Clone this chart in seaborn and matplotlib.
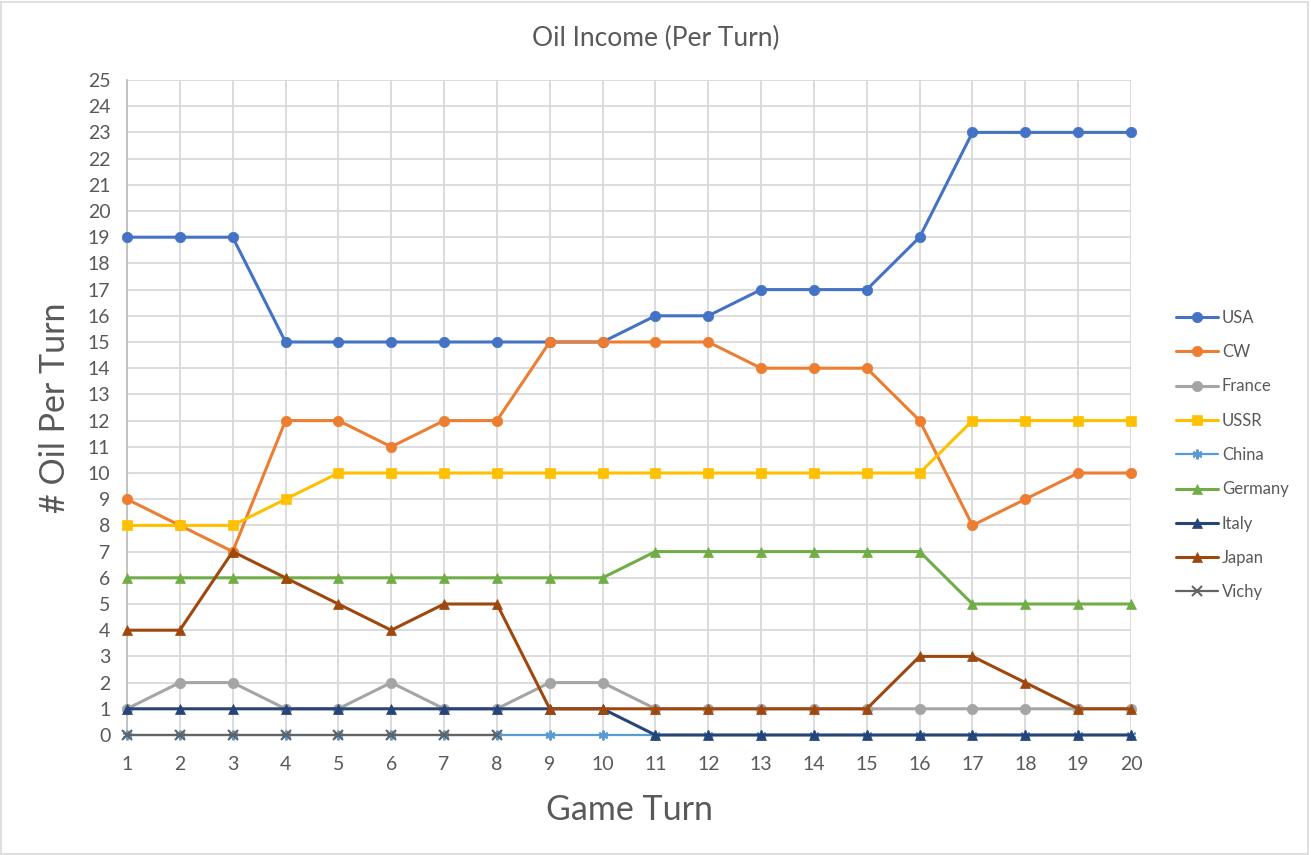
import pandas as pd
import numpy as np
import matplotlib.pyplot as plt
import seaborn as sns

# Oil income per game turn
turns = list(range(1, 21))
usa = [19, 19, 19, 15, 15, 15, 15, 15, 15, 15, 16, 16, 17, 17, 17, 19, 23, 23, 23, 23]
cw = [9, 8, 7, 12, 12, 11, 12, 12, 15, 15, 15, 15, 14, 14, 14, 12, 8, 9, 10, 10]
france = [1, 2, 2, 1, 1, 2, 1, 1, 2, 2, 1, 1, 1, 1, 1, 1, 1, 1, 1, 1]
ussr = [8, 8, 8, 9, 10, 10, 10, 10, 10, 10, 10, 10, 10, 10, 10, 10, 12, 12, 12, 12]
china = [0] * 20
germany = [6, 6, 6, 6, 6, 6, 6, 6, 6, 6, 7, 7, 7, 7, 7, 7, 5, 5, 5, 5]
italy = [1, 1, 1, 1, 1, 1, 1, 1, 1, 1, 0, 0, 0, 0, 0, 0, 0, 0, 0, 0]
japan = [4, 4, 7, 6, 5, 4, 5, 5, 1, 1, 1, 1, 1, 1, 1, 3, 3, 2, 1, 1]
vichy = [0, 0, 0, 0, 0, 0, 0, 0] + [np.nan] * 12

series = {
    'USA': usa, 'CW': cw, 'France': france, 'USSR': ussr, 'China': china,
    'Germany': germany, 'Italy': italy, 'Japan': japan, 'Vichy': vichy,
}
colors = {
    'USA': '#4472C4', 'CW': '#ED7D31', 'France': '#A5A5A5', 'USSR': '#FFC000',
    'China': '#5B9BD5', 'Germany': '#70AD47', 'Italy': '#264478',
    'Japan': '#9E480E', 'Vichy': '#636363',
}
markers = {
    'USA': 'o', 'CW': 'o', 'France': 'o', 'USSR': 's', 'China': (6, 2, 0),
    'Germany': '^', 'Italy': '^', 'Japan': '^', 'Vichy': 'x',
}

df = pd.DataFrame(series)
df['Turn'] = turns
long_df = df.melt(id_vars='Turn', var_name='Country', value_name='Oil').dropna()

sns.set_style('white')
plt.rcParams['font.family'] = ['Lato', 'DejaVu Sans']
text_col = '#595959'
grid_col = '#D9D9D9'

fig = plt.figure(figsize=(13.11, 8.55), dpi=100)
ax = fig.add_axes([127 / 1311, 1 - 735 / 855, (1131 - 127) / 1311, (735 - 80) / 855])

for name in series:
    sub = long_df[long_df['Country'] == name]
    thin = name in ('China', 'Vichy')
    sns.lineplot(ax=ax, data=sub, x='Turn', y='Oil', color=colors[name],
                 marker=markers[name], markersize=7.5 if not thin else 7,
                 markeredgecolor=colors[name],
                 markeredgewidth=1.5 if thin else 0.5,
                 linewidth=1.6 if thin else 2.2, label=name,
                 zorder=3, clip_on=False)

if ax.get_legend() is not None:
    ax.get_legend().remove()

ax.set_xlim(1, 20)
ax.set_ylim(0, 25)
ax.set_xticks(turns)
ax.set_yticks(range(0, 26))
ax.grid(True, color=grid_col, linewidth=1.3)
ax.set_axisbelow(True)
for s in ['top', 'right', 'bottom']:
    ax.spines[s].set_visible(False)
ax.spines['left'].set_color('#BFBFBF')
ax.spines['left'].set_linewidth(1.3)
ax.tick_params(axis='y', length=8, width=1.3, color='#BFBFBF', labelsize=14,
               labelcolor=text_col, pad=4)
ax.tick_params(axis='x', length=0, labelsize=14, labelcolor=text_col, pad=15)

ax.set_xlabel('Game Turn', fontsize=24.5, color=text_col, labelpad=15)
ax.set_ylabel('# Oil Per Turn', fontsize=24.5, color=text_col, labelpad=12)
fig.text(0.5, 1 - 38 / 855, 'Oil Income (Per Turn)', fontsize=19,
         color=text_col, ha='center', va='center')

handles, labels = ax.get_legend_handles_labels()
leg = fig.legend(handles, labels, loc='center left',
                 bbox_to_anchor=(1161 / 1311, 1 - 455 / 855), frameon=False,
                 fontsize=12, labelcolor=text_col, handlelength=2.5,
                 handletextpad=0.25, labelspacing=1.1)

# thin border around the chart area
fig.patches.append(plt.Rectangle((0.001, 0.001), 0.997, 0.997, transform=fig.transFigure,
                                 fill=False, edgecolor='#D9D9D9', linewidth=1.2))

fig.savefig('out.png', dpi=100)
